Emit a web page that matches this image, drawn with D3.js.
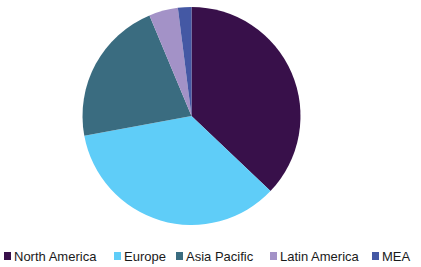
<!DOCTYPE html>
<html>
<head>
<meta charset="utf-8">
<script src="https://cdn.jsdelivr.net/npm/d3@7"></script>
<style>
  body { margin: 0; background: #fff; }
  svg { display: block; }
  .legend text { font-family: "Liberation Sans", Arial, sans-serif; font-size: 13px; fill: #1a1a1a; }
</style>
</head>
<body>
<script>
const regions = ["North America", "Europe", "Asia Pacific", "Latin America", "MEA"];
const shares = [37.1, 35.0, 21.6, 4.3, 2.0];
const colors = ["#38104a", "#5fcdf8", "#3a6c80", "#a392c7", "#4458a4"];

const w = 421, h = 267;
const cx = 191.5, cy = 116, r = 109;

const svg = d3.select("body")
    .append("svg")
    .attr("width", w)
    .attr("height", h);

const data = regions.map((d, i) => ({ name: d, value: shares[i], color: colors[i] }));

const pie = d3.pie()
    .value(d => d.value)
    .sort(null);

const arc = d3.arc()
    .innerRadius(0)
    .outerRadius(r);

svg.append("g")
    .attr("transform", `translate(${cx},${cy})`)
    .selectAll("path")
    .data(pie(data))
    .enter().append("path")
    .attr("d", arc)
    .attr("fill", d => d.data.color);

// legend slots, left to right
const legendX = [4, 114, 176, 270, 372];
const legendY = 252;

const legend = svg.append("g")
    .attr("class", "legend")
    .selectAll("g")
    .data(data)
    .enter().append("g")
    .attr("transform", (d, i) => `translate(${legendX[i]},${legendY})`);

legend.append("rect")
    .attr("width", 7)
    .attr("height", 8)
    .attr("fill", d => d.color);

legend.append("text")
    .attr("x", 10)
    .attr("y", 8.8)
    .text(d => d.name);
</script>
</body>
</html>
